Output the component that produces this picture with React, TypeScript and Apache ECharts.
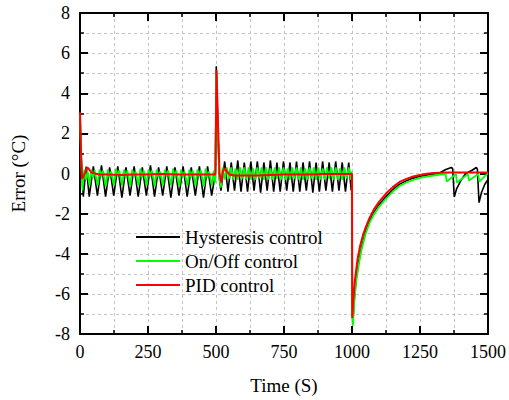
import React, { useEffect, useRef } from 'react';
import * as echarts from 'echarts';

const FONT = 'Liberation Serif, Times New Roman, serif';

const xMin = 0;
const xMax = 1500;
const xStep = 250;
const yMin = -8;
const yMax = 8;
const yStep = 2;

const seriesNames = ['Hysteresis control', 'On/Off control', 'PID control'];
const seriesColors = ['#000000', '#00ff00', '#ff0000'];

// Hysteresis control [time, error]
const hysteresisStart = [
  [0, 3.1], [3, 1.2], [12, -1.15], [23, 0.35], [34, -1.15], [49, 0.35], [64, -1.1], [79, 0.4],
  [94, -1.15], [109, 0.3], [124, -1.1], [139, 0.35], [154, -1.2], [169, 0.3], [184, -1.1],
  [199, 0.35], [214, -1.15], [229, 0.3], [244, -1.1], [259, 0.4], [274, -1.15], [289, 0.3],
  [304, -1.1], [319, 0.35], [334, -1.2], [349, 0.3], [364, -1.1], [379, 0.35], [394, -1.15],
  [409, 0.3], [424, -1.1], [439, 0.35], [454, -1.2], [469, 0.35], [484, -1.1], [494, -0.3],
  [498, 0.3],
];
const hysteresisMid = [
  [501, 5.35], [506, 2.8], [512, -0.2], [518, -0.85], [532, 0.6], [544, -0.9], [556, 0.55],
  [568, -0.85], [580, 0.65], [592, -0.9], [604, 0.55], [616, -0.9], [628, 0.6], [640, -0.85],
  [652, 0.6], [664, -0.95], [676, 0.55], [688, -0.85], [700, 0.65], [712, -0.9], [724, 0.55],
  [736, -0.9], [748, 0.6], [760, -0.85], [772, 0.55], [784, -0.9], [796, 0.6], [808, -0.9],
  [820, 0.55], [832, -0.85], [844, 0.6], [856, -0.95], [868, 0.55], [880, -0.9], [892, 0.6],
  [904, -0.85], [916, 0.55], [928, -0.9], [940, 0.6], [952, -0.85], [964, 0.55], [976, -0.9],
  [988, 0.55], [997, -0.85], [1000, 0.0],
];
const hysteresisEnd = [
  [1001, -6.8], [1003, -7.5], [1008, -6.3], [1015, -5.3], [1025, -4.4], [1035, -3.7],
  [1050, -2.9], [1065, -2.35], [1080, -1.95], [1100, -1.55], [1125, -1.15], [1150, -0.8],
  [1175, -0.53], [1200, -0.36], [1225, -0.23], [1250, -0.14], [1275, -0.08], [1300, -0.03],
  [1325, 0.05], [1345, 0.2], [1365, 0.3], [1370, 0.25], [1376, -1.17], [1385, -0.75],
  [1400, -0.35], [1418, 0.0], [1440, 0.15], [1457, 0.3], [1461, 0.2], [1467, -1.45],
  [1476, -0.95], [1488, -0.55], [1500, -0.3],
];

// On/Off control [time, error]
const onOffStart = [
  [0, 3.0], [4, 0.8], [9, -0.85], [16, 0.2], [22, -0.3], [28, 0.1],
  [35, -0.6], [42, 0.2], [48, -0.2], [54, 0.15],
  [65, -0.6], [72, 0.2], [78, -0.15], [84, 0.15],
  [95, -0.65], [102, 0.2], [108, -0.2], [114, 0.1],
  [125, -0.6], [132, 0.25], [138, -0.15], [144, 0.15],
  [155, -0.6], [162, 0.2], [168, -0.2], [174, 0.15],
  [185, -0.65], [192, 0.2], [198, -0.15], [204, 0.1],
  [215, -0.6], [222, 0.25], [228, -0.2], [234, 0.15],
  [245, -0.6], [252, 0.2], [258, -0.15], [264, 0.15],
  [275, -0.65], [282, 0.2], [288, -0.2], [294, 0.1],
  [305, -0.6], [312, 0.2], [318, -0.15], [324, 0.15],
  [335, -0.6], [342, 0.25], [348, -0.2], [354, 0.15],
  [365, -0.65], [372, 0.2], [378, -0.15], [384, 0.1],
  [395, -0.6], [402, 0.2], [408, -0.2], [414, 0.15],
  [425, -0.6], [432, 0.2], [438, -0.15], [444, 0.15],
  [455, -0.65], [462, 0.25], [468, -0.2], [474, 0.1],
  [485, -0.6], [492, 0.15], [497, -0.45],
];
const onOffMid = [
  [501, 5.0], [506, 2.4], [512, -0.2], [518, -0.7], [524, 0.3], [532, -0.3], [540, 0.3],
  [548, -0.25], [556, 0.3], [564, -0.3], [572, 0.25], [580, -0.3], [588, 0.3], [596, -0.25],
  [604, 0.3], [612, -0.3], [620, 0.3], [628, -0.3], [636, 0.25], [644, -0.3], [652, 0.3],
  [660, -0.25], [668, 0.3], [676, -0.3], [684, 0.3], [692, -0.3], [700, 0.25], [708, -0.3],
  [716, 0.3], [724, -0.25], [732, 0.3], [740, -0.3], [748, 0.3], [756, -0.3], [764, 0.25],
  [772, -0.3], [780, 0.3], [788, -0.25], [796, 0.3], [804, -0.3], [812, 0.3], [820, -0.3],
  [828, 0.25], [836, -0.3], [844, 0.3], [852, -0.25], [860, 0.3], [868, -0.3], [876, 0.3],
  [884, -0.3], [892, 0.25], [900, -0.3], [908, 0.3], [916, -0.25], [924, 0.3], [932, -0.3],
  [940, 0.3], [948, -0.3], [956, 0.25], [964, -0.3], [972, 0.3], [980, -0.25], [988, 0.3],
  [996, -0.3], [999, 0.1],
];
const onOffEnd = [
  [1001, -7.0], [1003, -7.6], [1008, -6.5], [1015, -5.4], [1025, -4.5], [1035, -3.8],
  [1050, -3.0], [1065, -2.45], [1080, -2.05], [1100, -1.65], [1125, -1.25], [1150, -0.9],
  [1175, -0.62], [1200, -0.45], [1225, -0.32], [1250, -0.22], [1275, -0.15], [1300, -0.1],
  [1325, -0.06], [1344, -0.03], [1348, -0.4], [1382, -0.03], [1386, -0.45], [1426, -0.03],
  [1430, -0.35], [1464, -0.02], [1468, -0.4], [1500, 0.02],
];

// PID control [time, error]
const pidStart = [
  [0, 3.05], [3, 1.4], [7, -0.25], [13, -0.15], [20, 0.1], [27, 0.3], [34, 0.2], [42, 0.05],
  [55, 0.0], [70, -0.05], [100, -0.05], [150, -0.08], [200, -0.05], [250, -0.05], [300, -0.03],
  [350, -0.05], [400, -0.05], [450, -0.05], [498, -0.05],
];
const pidMid = [
  [502, 5.15], [507, 2.6], [513, 0.0], [519, -0.45], [526, 0.15], [533, 0.25], [540, 0.1],
  [550, -0.05], [565, -0.1], [600, -0.1], [650, -0.1], [700, -0.07], [750, -0.05], [800, -0.05],
  [850, -0.05], [900, -0.03], [950, -0.03], [1000, -0.02],
];
const pidEnd = [
  [1001, -7.2], [1005, -6.3], [1010, -5.4], [1020, -4.3], [1030, -3.6], [1040, -3.1],
  [1050, -2.7], [1065, -2.2], [1080, -1.8], [1100, -1.4], [1125, -1.0], [1150, -0.68],
  [1175, -0.42], [1200, -0.27], [1225, -0.15], [1250, -0.07], [1275, -0.01], [1300, 0.03],
  [1350, 0.05], [1400, 0.05], [1450, 0.05], [1500, 0.05],
];

const seriesData = [
  [...hysteresisStart, ...hysteresisMid, ...hysteresisEnd],
  [...onOffStart, ...onOffMid, ...onOffEnd],
  [...pidStart, ...pidMid, ...pidEnd],
];

const gridLine = { show: true, lineStyle: { color: '#c4c4c4', type: [3, 3] as any, width: 1 } };
const frameLine = { show: true, onZero: false, lineStyle: { color: '#000', width: 2 } };
const majorTick = { show: true, inside: true, length: 8, lineStyle: { color: '#000', width: 2 } };
const minorTick = { show: true, splitNumber: 2, length: 4, lineStyle: { color: '#000', width: 1.5 } };
const labelStyle = { color: '#000', fontFamily: FONT, fontSize: 18 };

export default function App() {
  const ref = useRef<HTMLDivElement>(null);
  useEffect(() => {
    const chart = echarts.init(ref.current!, null, { renderer: 'svg' });
    chart.setOption({
      animation: false,
      backgroundColor: '#fff',
      grid: { left: 80, right: 20, top: 13, bottom: 66, containLabel: false },
      legend: {
        left: 136,
        top: 227,
        orient: 'vertical',
        padding: 0,
        itemGap: 4,
        itemWidth: 44,
        itemHeight: 2,
        icon: 'rect',
        textStyle: { color: '#000', fontFamily: FONT, fontSize: 19, lineHeight: 20 },
        data: seriesNames,
      },
      xAxis: [
        {
          type: 'value', min: xMin, max: xMax, interval: xStep, position: 'bottom',
          axisLine: frameLine, axisTick: majorTick, minorTick,
          axisLabel: {
            ...labelStyle, margin: 9, showMinLabel: true, showMaxLabel: true,
            formatter: (v: number) => String(v),
          },
          splitLine: gridLine, minorSplitLine: gridLine,
          name: 'Time (S)', nameLocation: 'middle', nameGap: 42,
          nameTextStyle: { color: '#000', fontFamily: FONT, fontSize: 19 },
        },
        {
          type: 'value', min: xMin, max: xMax, interval: xStep, position: 'top',
          axisLine: frameLine, axisTick: majorTick, minorTick,
          axisLabel: { show: false }, splitLine: { show: false },
        },
      ],
      yAxis: [
        {
          type: 'value', min: yMin, max: yMax, interval: yStep, position: 'left',
          axisLine: frameLine, axisTick: majorTick, minorTick,
          axisLabel: {
            ...labelStyle, margin: 10, showMinLabel: true, showMaxLabel: true,
            formatter: (v: number) => String(v),
          },
          splitLine: gridLine, minorSplitLine: gridLine,
          name: 'Error (°C)', nameLocation: 'middle', nameGap: 52, nameRotate: 90,
          nameTextStyle: { color: '#000', fontFamily: FONT, fontSize: 19 },
        },
        {
          type: 'value', min: yMin, max: yMax, interval: yStep, position: 'right',
          axisLine: frameLine, axisTick: majorTick, minorTick,
          axisLabel: { show: false }, splitLine: { show: false },
        },
      ],
      series: seriesNames.map((name, i) => ({
        name,
        type: 'line',
        data: seriesData[i],
        xAxisIndex: 0,
        yAxisIndex: 0,
        showSymbol: false,
        symbol: 'none',
        clip: true,
        color: seriesColors[i],
        itemStyle: { color: seriesColors[i] },
        lineStyle: { color: seriesColors[i], width: i === 2 ? 2 : i === 1 ? 1.8 : 1.6 },
        z: 2 + i,
      })),
    });
    return () => chart.dispose();
  }, []);
  return (
    <div
      ref={ref}
      style={{ position: 'fixed', left: 0, top: 0, width: 509, height: 400, background: '#fff' }}
    />
  );
}
